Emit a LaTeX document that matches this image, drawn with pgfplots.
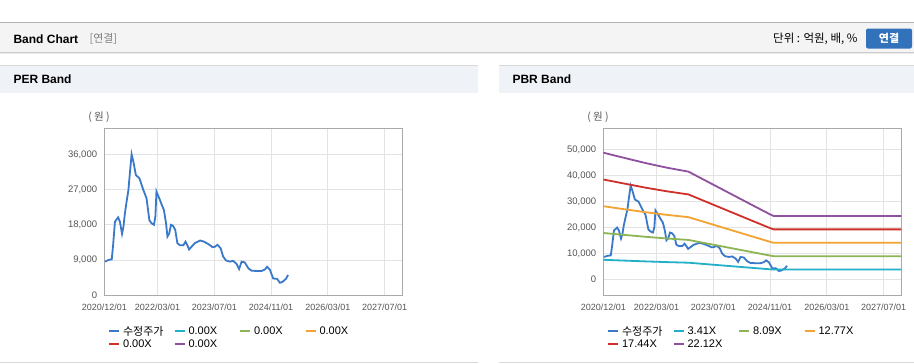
\documentclass[border=0pt]{standalone}
\usepackage{fontspec}
\setmainfont{Liberation Sans}
\newfontfamily\kr{Noto Sans CJK KR}
\usepackage{pgfplots}
\usepackage{pgfplotstable}
\pgfplotsset{compat=1.18}
\definecolor{pricec}{HTML}{3A78C9}
\definecolor{cyanc}{HTML}{22B0C8}
\definecolor{greenc}{HTML}{8DB556}
\definecolor{orangec}{HTML}{F2A332}
\definecolor{redc}{HTML}{D0302A}
\definecolor{purplec}{HTML}{9050A0}
\definecolor{gridc}{HTML}{E3E3E3}
\definecolor{axc}{HTML}{AAAAAA}
\definecolor{tickc}{HTML}{555555}
\definecolor{hdrbg}{HTML}{F4F4F4}
\definecolor{barbg}{HTML}{EFF2F6}
\definecolor{btnc}{HTML}{3272BA}

\pgfplotstableread{
m v
0.2 8600
1.1 9000
2.1 9200
2.5 13000
3.0 18800
3.9 19900
4.4 18800
5.0 15700
5.4 17500
5.8 20900
6.3 24000
6.8 26900
7.2 31100
7.7 36000
8.2 34100
8.9 30700
9.9 29900
11.0 26900
11.9 24800
12.7 19200
13.3 18400
14.0 18000
14.4 20100
14.7 26500
15.7 24300
16.2 23100
16.8 21800
17.4 18400
17.8 15000
18.3 15800
18.8 18000
19.4 17700
20.0 16700
20.6 13300
21.3 12800
22.3 12800
22.9 13700
23.4 12800
23.9 11700
24.6 12400
25.5 13300
27.0 14000
28.1 13700
29.3 13100
30.5 12300
31.2 12400
31.9 12900
32.8 12000
33.5 9900
34.3 8900
35.4 8600
36.3 8800
37.3 8000
38.0 6700
38.7 8600
39.6 8400
40.6 6900
41.5 6300
42.9 6200
44.3 6200
45.3 6600
45.9 7300
46.7 6500
47.6 4300
48.7 4200
49.5 3200
50.2 3400
51.2 4200
51.8 5200
}\pricetab

\pgfplotstableread{
m a b c d e
0  7509 17814 28120 38403 48708
6  7195 17070 26945 36798 46673
12 6888 16342 25795 35229 44682
18 6615 15695 24774 33834 42913
24 6384 15144 23905 32648 41409
30 5722 13575 21428 29264 37117
36 5060 12006 18951 25881 32826
42 4399 10436 16473 22498 28535
47 3853 9142 14430 19707 24996
48 3754 8907 14060 19201 24354
84 3754 8907 14060 19201 24354
}\bandtab

\pgfplotsset{
  bandaxis/.style={
    scale only axis, width=298pt, height=167pt,
    xmin=0, xmax=84,
    xtick={0,15,31,47,63,79},
    xticklabels={2020/12/01,2022/03/01,2023/07/01,2024/11/01,2026/03/01,2027/07/01},
    grid=major, grid style={color=gridc, line width=0.7pt},
    axis line style={color=axc, line width=0.8pt},
    major tick length=0pt,
    /pgf/number format/assume math mode=true,
    /pgf/number format/1000 sep={,},
    scaled y ticks=false,
    xticklabel style={font=\fontsize{9}{10}\selectfont, color=tickc, inner sep=0pt, anchor=north, yshift=-8pt},
    yticklabel style={font=\fontsize{9.5}{10}\selectfont, color=tickc, inner sep=0pt, anchor=east, xshift=-7pt},
    legend columns=4,
    legend cell align=left,
    legend image code/.code={\draw[#1, line width=2pt] (0pt,0pt) -- (10pt,0pt);},
    legend style={draw=none, fill=none, font=\fontsize{11}{12}\selectfont, anchor=north west,
      inner sep=0pt, row sep=3pt, column sep=0pt,
      nodes={inner sep=0pt, anchor=west}},
  }
}
\newcommand{\lt}[1]{\hspace{3pt}\makebox[50.5pt][l]{#1}}

\begin{document}
\begin{tikzpicture}[x=1pt,y=-1pt]
\fill[white] (0,0) rectangle (914,364);
% header band
\fill[hdrbg] (0,22.5) rectangle (914,52);
\draw[color=black!30, line width=0.8pt] (0,22.5) -- (914,22.5);
\draw[color=black!20, line width=0.8pt] (0,52.3) -- (914,52.3);
\draw[color=black!8, line width=1pt] (0,53.5) -- (914,53.5);
\node[anchor=west, font=\bfseries\fontsize{12}{13}\selectfont] at (10,39) {Band Chart};
\node[anchor=west, font=\kr\fontsize{11}{12}\selectfont, text=black!50] at (86,39) {[연결]};
\node[anchor=east, font=\kr\fontsize{11.5}{12}\selectfont] at (861,39) {단위 : 억원, 배, \%};
\fill[btnc, rounded corners=2pt] (866,28.5) rectangle (912,48.5);
\node[font=\kr\bfseries\fontsize{11}{12}\selectfont, text=white] at (889,38.5) {연결};
% panel title bars
\fill[barbg] (0,65) rectangle (478,93);
\draw[color=black!15, line width=0.8pt] (0,65) -- (478,65);
\fill[barbg] (499,65) rectangle (914,93);
\draw[color=black!15, line width=0.8pt] (499,65) -- (914,65);
\node[anchor=west, font=\bfseries\fontsize{12}{13}\selectfont] at (10,79.5) {PER Band};
\node[anchor=west, font=\bfseries\fontsize{12}{13}\selectfont] at (509,79.5) {PBR Band};
% bottom lines
\draw[color=black!15, line width=0.8pt] (0,362.8) -- (478,362.8);
\draw[color=black!15, line width=0.8pt] (499,362.8) -- (914,362.8);
% unit labels
\node[font=\kr\fontsize{10.5}{11}\selectfont, text=tickc] at (99,117.5) {( 원 )};
\node[font=\kr\fontsize{10.5}{11}\selectfont, text=tickc] at (598,117.5) {( 원 )};

% PER axis
\begin{axis}[bandaxis, at={(104.3pt,-295.3pt)}, anchor=south west,
  ymin=0, ymax=42640, ytick={0,9000,18000,27000,36000},
  legend style={at={(axis description cs:0.012,-0.183)}}]
\addplot[pricec, line width=1.8pt] table[x=m,y=v] {\pricetab};
\addlegendentry{\lt{\kr 수정주가}}
\addlegendimage{cyanc}\addlegendentry{\lt{0.00X}}
\addlegendimage{greenc}\addlegendentry{\lt{0.00X}}
\addlegendimage{orangec}\addlegendentry{\lt{0.00X}}
\addlegendimage{redc}\addlegendentry{\lt{0.00X}}
\addlegendimage{purplec}\addlegendentry{\lt{0.00X}}
\end{axis}

% PBR axis
\begin{axis}[bandaxis, at={(603.3pt,-295.3pt)}, anchor=south west,
  ymin=-6150, ymax=58080, ytick={0,10000,20000,30000,40000,50000},
  legend style={at={(axis description cs:0.012,-0.183)}}]
\addplot[pricec, line width=1.8pt] table[x=m,y=v] {\pricetab};
\addlegendentry{\lt{\kr 수정주가}}
\addplot[cyanc, line width=1.8pt] table[x=m,y=a] {\bandtab};
\addlegendentry{\lt{3.41X}}
\addplot[greenc, line width=1.8pt] table[x=m,y=b] {\bandtab};
\addlegendentry{\lt{8.09X}}
\addplot[orangec, line width=1.8pt] table[x=m,y=c] {\bandtab};
\addlegendentry{\lt{12.77X}}
\addplot[redc, line width=1.8pt] table[x=m,y=d] {\bandtab};
\addlegendentry{\lt{17.44X}}
\addplot[purplec, line width=1.8pt] table[x=m,y=e] {\bandtab};
\addlegendentry{\lt{22.12X}}
\end{axis}
\pgfresetboundingbox
\useasboundingbox (0,0) rectangle (914,364);
\end{tikzpicture}
\end{document}
